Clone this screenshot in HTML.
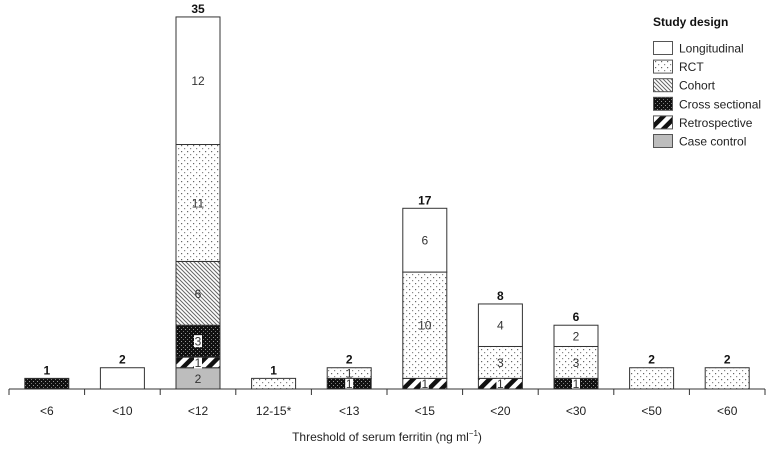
<!DOCTYPE html>
<html><head><meta charset="utf-8"><style>
html,body{margin:0;padding:0;background:#fff;}
svg{display:block;font-family:"Liberation Sans",Arial,sans-serif;}
</style></head>
<body>
<svg id="chart" width="775" height="449" viewBox="0 0 775 449">
<defs>
<pattern id="p-rct" width="6" height="6" patternUnits="userSpaceOnUse"><rect width="6" height="6" fill="#fff"/><rect x="1" y="1" width="1.2" height="1.2" fill="#666"/><rect x="4" y="4" width="1.2" height="1.2" fill="#888"/></pattern>
<pattern id="p-cohort" width="4" height="4" patternUnits="userSpaceOnUse"><rect width="4" height="4" fill="#fff"/><path d="M-1,-1 L5,5 M3,-1 L5,1 M-1,3 L1,5" stroke="#666" stroke-width="1"/></pattern>
<pattern id="p-cross" width="4" height="4" patternUnits="userSpaceOnUse"><rect width="4" height="4" fill="#111"/><rect x="1" y="1" width="1" height="1" fill="#999"/><rect x="3" y="3" width="1" height="1" fill="#777"/></pattern>
<pattern id="p-retro" width="9" height="9" patternUnits="userSpaceOnUse" patternTransform="rotate(45)"><rect width="9" height="9" fill="#fff"/><rect width="4.5" height="9" fill="#111"/></pattern>
</defs>
<g id="bars"></g>
<g id="axis"></g>
<text x="387" y="441" text-anchor="middle" font-size="12" fill="#222">Threshold of serum ferritin (ng ml<tspan dy="-5" font-size="8">−1</tspan><tspan dy="5">)</tspan></text>
<g id="legend">
<text x="653" y="26" font-size="12" font-weight="bold" fill="#111">Study design</text>
</g>
</svg>
<script>
const categories = ["<6","<10","<12","12-15*","<13","<15","<20","<30","<50","<60"];
const designs = ["Case control","Retrospective","Cross sectional","Cohort","RCT","Longitudinal"];
const caseControl   = [0,0,2,0,0,0,0,0,0,0];
const retrospective = [0,0,1,0,0,1,1,0,0,0];
const crossSectional= [1,0,3,0,1,0,0,1,0,0];
const cohort        = [0,0,6,0,0,0,0,0,0,0];
const rct           = [0,0,11,1,1,10,3,3,2,2];
const longitudinal  = [0,2,12,0,0,6,4,2,0,0];
const series = [caseControl, retrospective, crossSectional, cohort, rct, longitudinal];
const fills = ["#bdbdbd","url(#p-retro)","url(#p-cross)","url(#p-cohort)","url(#p-rct)","#fff"];
const segNames = ["case-control","retrospective","cross-sectional","cohort","rct","longitudinal"];

const NS="http://www.w3.org/2000/svg";
const base=389, unit=10.63, x0=9, step=75.6, bw=44;
const xC=i=>x0+step*(i+0.5);
const yV=v=>base-v*unit;
function mk(tag,attrs,parent){const e=document.createElementNS(NS,tag);for(const k in attrs)e.setAttribute(k,attrs[k]);parent.appendChild(e);return e;}

const gb=document.getElementById('bars');
categories.forEach((c,i)=>{
  let cum=0; const nseg=series.filter(s=>s[i]>0).length;
  series.forEach((s,k)=>{
    const v=s[i]; if(!v) return;
    const y1=yV(cum+v), y0=yV(cum);
    const r=mk('rect',{x:xC(i)-bw/2,y:y1,width:bw,height:y0-y1,fill:fills[k],stroke:'#333','stroke-width':1},gb);
    
    
    if(nseg>1){
      const dark=(k===1||k===2);
      if(dark){const bg=mk('rect',{x:xC(i)-4,y:(y0+y1)/2-6,width:8,height:12,fill:'#fff'},gb);
        
        }
      const t=mk('text',{x:xC(i),y:(y0+y1)/2+4.5,'text-anchor':'middle','font-size':12,fill:'#333'},gb);
      
      
      t.textContent=v;
    }
    cum+=v;
  });
  const t=mk('text',{x:xC(i),y:yV(cum)-4,'text-anchor':'middle','font-size':12,'font-weight':'bold',fill:'#111'},gb);
  
  
  t.textContent=cum;
});

const ga=document.getElementById('axis');
const ln=mk('line',{x1:x0,y1:base,x2:x0+step*categories.length,y2:base,stroke:'#333','stroke-width':1},ga);


for(let i=0;i<=categories.length;i++){
  const tk=mk('line',{x1:x0+step*i,y1:base,x2:x0+step*i,y2:base+6,stroke:'#333'},ga);
  
  
}
categories.forEach((c,i)=>{
  const t=mk('text',{x:xC(i),y:415,'text-anchor':'middle','font-size':12,fill:'#222'},ga);
  
  
  t.textContent=c;
});

const gl=document.getElementById('legend');
const order=[5,4,3,2,1,0];
order.forEach((k,j)=>{
  const cy=48+j*18.6;
  const r=mk('rect',{x:653.5,y:cy-6.5,width:19,height:13,fill:fills[k],stroke:'#555'},gl);
  
  
  const t=mk('text',{x:679,y:cy+4.5,'font-size':12,fill:'#222'},gl);
  
  
  t.textContent=designs[k];
});
</script>
</body></html>
